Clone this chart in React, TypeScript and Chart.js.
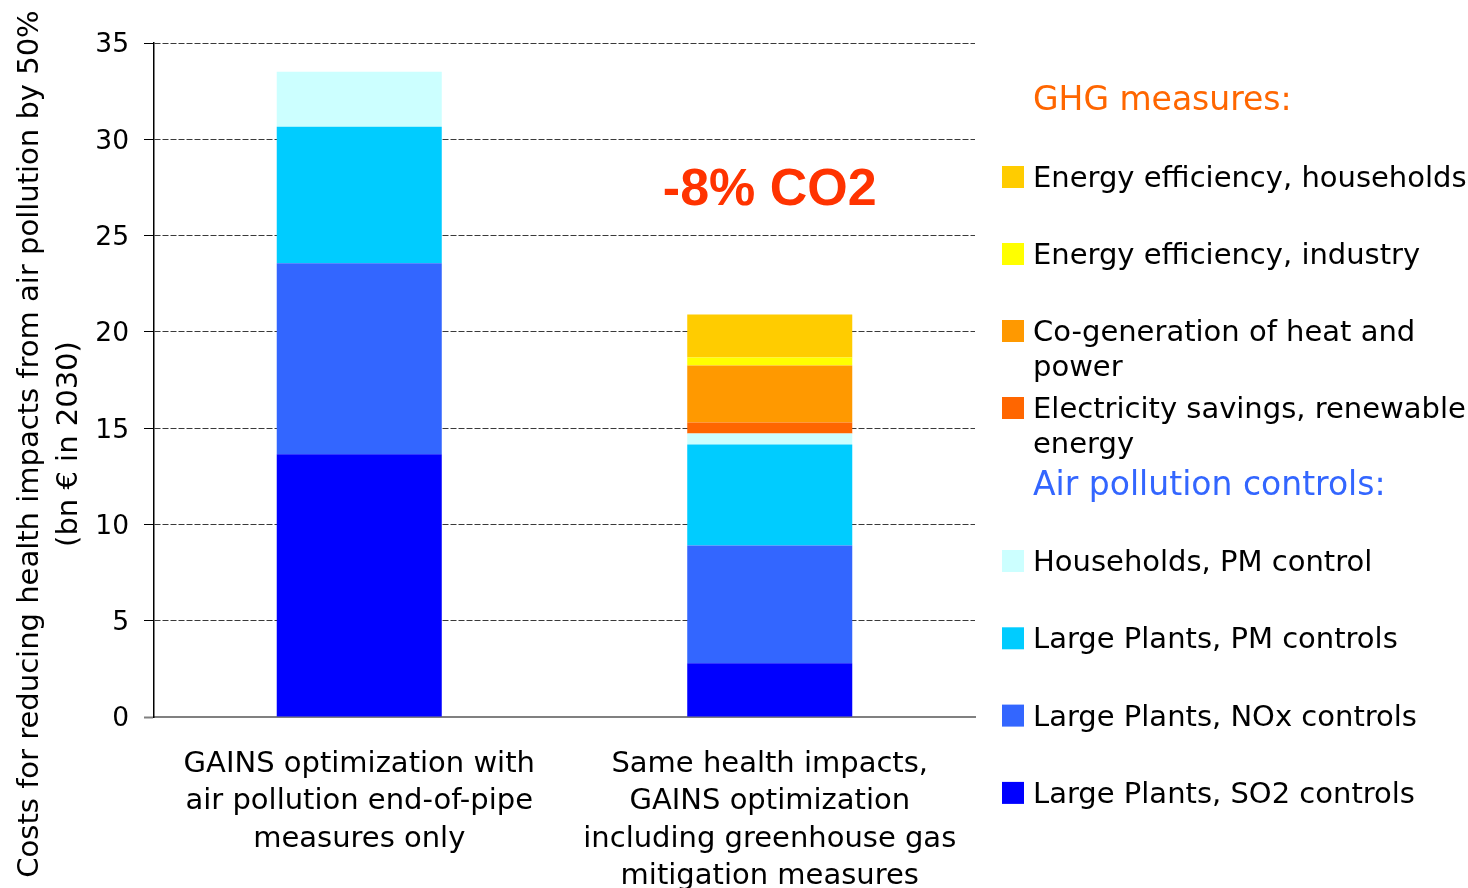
import React, { useEffect, useRef } from "react";
import { Chart, registerables } from "chart.js";

Chart.register(...registerables);

// ---------- data ----------
const categories: string[][] = [
  ["GAINS optimization with", "air pollution end-of-pipe", "measures only"],
  ["Same health impacts,", "GAINS optimization", "including greenhouse gas", "mitigation measures"],
];

// stacked bottom-up
const seriesLabels = [
  "Large Plants, SO2 controls",
  "Large Plants, NOx controls",
  "Large Plants, PM controls",
  "Households, PM control",
  "Electricity savings, renewable energy",
  "Co-generation of heat and power",
  "Energy efficiency, industry",
  "Energy efficiency, households",
];
const seriesGroups = ["air", "air", "air", "air", "ghg", "ghg", "ghg", "ghg"];
const seriesColors = ["#0000FF", "#3366FF", "#00CCFF", "#CCFFFF", "#FF6600", "#FF9900", "#FFFF00", "#FFCC00"];

const so2Controls = [13.65, 2.79];
const noxControls = [9.91, 6.12];
const pmLargeControls = [7.09, 5.24];
const pmHouseholds = [2.86, 0.57];
const electricitySavings = [0, 0.57];
const coGeneration = [0, 2.96];
const efficiencyIndustry = [0, 0.42];
const efficiencyHouseholds = [0, 2.23];

const seriesValues = [
  so2Controls,
  noxControls,
  pmLargeControls,
  pmHouseholds,
  electricitySavings,
  coGeneration,
  efficiencyIndustry,
  efficiencyHouseholds,
];

const yMin = 0;
const yMax = 35;
const yStep = 5;

const axisTitleLines = ["Costs for reducing health impacts from air pollution by 50%", "(bn € in 2030)"];
const groupHeaders = { ghg: "GHG measures:", air: "Air pollution controls:" };
const groupHeaderColors = { ghg: "#FF6600", air: "#3366FF" };
const annotationText = "-8% CO2";

const FONT = '"DejaVu Sans", Verdana, sans-serif';

// ---------- plugins ----------
const axisTitlePlugin = {
  id: "axisTitle",
  afterDraw(chart: any) {
    const ctx = chart.ctx;
    ctx.save();
    ctx.fillStyle = "#000";
    ctx.font = `29px ${FONT}`;
    ctx.textAlign = "center";
    ctx.textBaseline = "middle";
    const xs = [30, 69];
    axisTitleLines.forEach((line, i) => {
      ctx.save();
      ctx.translate(xs[i], 444);
      ctx.rotate(-Math.PI / 2);
      ctx.fillText(line, 0, 0);
      ctx.restore();
    });
    ctx.restore();
  },
};

const annotationPlugin = {
  id: "co2Annotation",
  afterDraw(chart: any) {
    const ctx = chart.ctx;
    const x = chart.scales.x.getPixelForValue(1);
    ctx.save();
    ctx.fillStyle = "#FF3300";
    ctx.font = `bold 52px "Liberation Sans", Arial, sans-serif`;
    ctx.textAlign = "center";
    ctx.textBaseline = "middle";
    ctx.fillText(annotationText, x, 191);
    ctx.restore();
  },
};

function wrapText(ctx: any, text: string, maxWidth: number): string[] {
  const words = text.split(" ");
  const lines: string[] = [];
  let cur = "";
  for (const w of words) {
    const test = cur ? cur + " " + w : w;
    if (ctx.measureText(test).width > maxWidth && cur) {
      lines.push(cur);
      cur = w;
    } else {
      cur = test;
    }
  }
  if (cur) lines.push(cur);
  return lines;
}

const legendPlugin = {
  id: "groupLegend",
  afterDraw(chart: any) {
    const ctx = chart.ctx;
    const datasets = chart.data.datasets;
    const textX = 1033;
    const boxX = 1002;
    const box = 22;
    const layout = [
      { group: "ghg", headerY: 101.5, firstY: 177, step: 77 },
      { group: "air", headerY: 486.5, firstY: 561, step: 77.3 },
    ];
    ctx.save();
    ctx.textAlign = "left";
    ctx.textBaseline = "middle";
    layout.forEach((g) => {
      ctx.font = `33px ${FONT}`;
      ctx.fillStyle = (groupHeaderColors as any)[g.group];
      ctx.fillText((groupHeaders as any)[g.group], textX, g.headerY);
      const items = datasets
        .map((d: any, i: number) => ({ d, i }))
        .filter((o: any) => seriesGroups[o.i] === g.group)
        .reverse();
      ctx.font = `29px ${FONT}`;
      items.forEach((o: any, k: number) => {
        const y = g.firstY + k * g.step;
        ctx.fillStyle = o.d.backgroundColor;
        ctx.fillRect(boxX, y - box / 2, box, box);
        ctx.fillStyle = "#000";
        const lines = wrapText(ctx, o.d.label, 445);
        lines.forEach((ln, j) => ctx.fillText(ln, textX, y + 2.5 + j * 35));
      });
    });
    ctx.restore();
  },
};

export default function App() {
  const ref = useRef<HTMLCanvasElement | null>(null);

  useEffect(() => {
    if (!ref.current) return;
    Chart.defaults.font.family = FONT;
    const chart = new Chart(ref.current, {
      type: "bar",
      data: {
        labels: categories as any,
        datasets: seriesLabels.map((label, i) => ({
          label,
          data: seriesValues[i],
          backgroundColor: seriesColors[i],
          borderWidth: 0,
          barPercentage: 0.402,
          categoryPercentage: 1,
        })),
      },
      options: {
        responsive: false,
        animation: false,
        devicePixelRatio: 1,
        layout: { padding: { left: 0, right: 493, top: 43, bottom: 0 } },
        plugins: {
          legend: { display: false },
          tooltip: { enabled: false },
          title: { display: false },
        },
        scales: {
          x: {
            stacked: true,
            grid: { display: true, drawOnChartArea: false, drawTicks: false },
            border: { display: true, color: "#808080", width: 2 },
            ticks: {
              color: "#000",
              font: { family: FONT, size: 29, lineHeight: 1.286 },
              padding: 29,
              maxRotation: 0,
              minRotation: 0,
              autoSkip: false,
            },
            afterFit: (s: any) => {
              s.height = 171;
            },
          },
          y: {
            stacked: true,
            min: yMin,
            max: yMax,
            ticks: {
              stepSize: yStep,
              color: "#000",
              font: { family: FONT, size: 26.5 },
              padding: 15,
              labelOffset: 2.5,
            },
            grid: {
              color: (c: any) => (c.tick && c.tick.value === 0 ? "rgba(0,0,0,0)" : "#3a3a3a"),
              lineWidth: 1,
              tickLength: 10,
              tickColor: (c: any) => (c.tick && c.tick.value === 0 ? "#808080" : "#000"),
              tickWidth: (c: any) => (c.tick && c.tick.value === 0 ? 2 : 1),
            },
            border: { display: true, color: "#000", width: 1.5, dash: [6, 2] },
            afterFit: (s: any) => {
              s.width = 154;
            },
          },
        },
      },
      plugins: [axisTitlePlugin, annotationPlugin, legendPlugin],
    });
    return () => chart.destroy();
  }, []);

  return (
    <div style={{ position: "fixed", left: 0, top: 0, width: 1468, height: 888, background: "#fff" }}>
      <canvas ref={ref} width={1468} height={888} style={{ display: "block" }} />
    </div>
  );
}
